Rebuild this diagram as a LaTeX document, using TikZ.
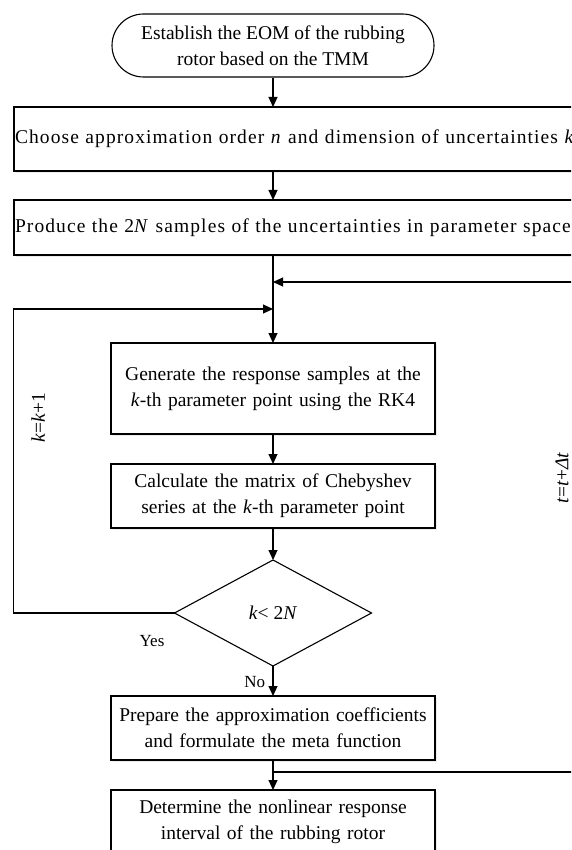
\documentclass[tikz,border=0pt]{standalone}
\usepackage{fontspec}
\setmainfont{Liberation Serif}
\newfontfamily\widefont[LetterSpace=5.6]{Liberation Serif}
\usetikzlibrary{positioning,arrows.meta,shapes.geometric,shapes.misc,shadows}

\begin{document}
\begin{tikzpicture}[
  x=1pt,y=1pt,
  node distance=30pt,
  every node/.style={font=\fontsize{19.5}{26}\selectfont,align=center},
  term/.style={draw,rounded rectangle,line width=1.1pt,minimum width=322pt,minimum height=63pt,inner sep=0pt},
  proc/.style={draw,line width=1.1pt,text width=308pt,inner xsep=8pt,minimum height=64pt,outer sep=0pt,
    fill=white,drop shadow={opacity=0.15,shadow xshift=2pt,shadow yshift=-2pt}},
  wide/.style={proc,text width=600pt,inner xsep=1pt,align=left,anchor=north west,
    font=\widefont\fontsize{19.5}{26}\selectfont},
  dec/.style={draw,diamond,line width=1.1pt,minimum width=197pt,minimum height=106pt,inner sep=0pt,outer sep=0pt},
  arr/.style={-{Triangle[length=10pt,width=9pt]},line width=1.1pt},
  lbl/.style={font=\fontsize{17}{20}\selectfont}
]
  \useasboundingbox (0,0) rectangle (571,-850);
  \clip (0,0) rectangle (571,-850);
  \node[term] (start) at (273,-45.5) {Establish the EOM of the rubbing\\rotor based on the TMM};
  \node[wide] (choose) at (14,-107) {Choose approximation order \textit{n} and dimension of uncertainties \textit{k}};
  \node[wide,minimum height=55pt] (produce) at (14,-200) {Produce the 2\textit{N} samples of the uncertainties in parameter space};
  \node[proc,minimum height=91pt] (gen) at (273,-388.5) {Generate the response samples at the\\\textit{k}-th parameter point using the RK4};
  \node[proc,below=of gen] (calc) {Calculate the matrix of Chebyshev\\series at the \textit{k}-th parameter point};
  \node[dec,below=32pt of calc] (check) {\textit{k}< 2\textit{N}};
  \node[proc,below=of check] (prep) {Prepare the approximation coefficients\\and formulate the meta function};
  \node[proc,below=of prep] (det) {Determine the nonlinear response\\interval of the rubbing rotor};
  \coordinate (tin) at (273,-282);
  \coordinate (kin) at (273,-309);
  \coordinate (tjoin) at (273,-772);
  \coordinate (tcorner) at (600,-772);
  \draw[arr] (start.south) -- (start.south |- choose.north);
  \draw[arr] (start.south |- choose.south) -- (start.south |- produce.north);
  \draw[arr] (gen.north |- produce.south) -- (gen.north);
  \draw[arr] (gen) -- (calc);
  \draw[arr] (calc) -- (check);
  \draw[arr] (check) -- node[lbl,left=4pt,pos=0.55] (no) {No} (prep);
  \draw[arr] (prep) -- (det);
  \draw[arr] (check.west) -- ++(-161,0) |- (kin);
  \draw[arr] (tjoin) -- (tcorner) |- (tin);
  \node[lbl] (yes) at (152,-641) {Yes};
  \node[rotate=90] (kstep) at (38,-418) {\textit{k}=\textit{k}+1};
  \node[rotate=90] (tstep) at (562,-478) {\textit{t}=\textit{t}+\textit{Δt}};
\end{tikzpicture}
\end{document}
